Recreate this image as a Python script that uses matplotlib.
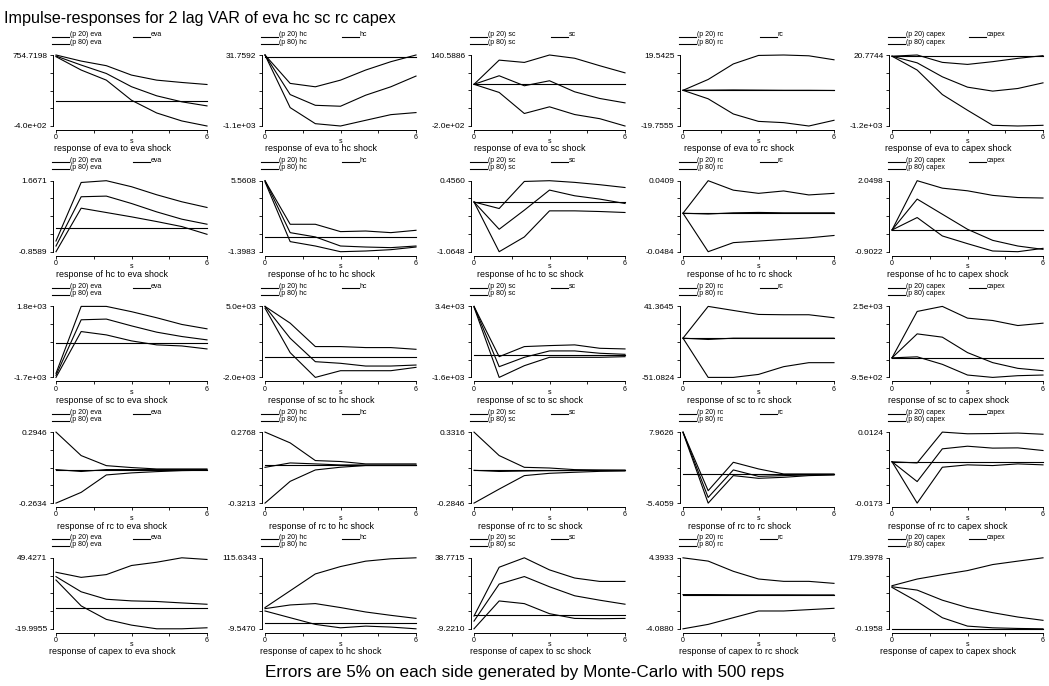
import numpy as np
import matplotlib
matplotlib.use("Agg")
import matplotlib.pyplot as plt
from matplotlib.lines import Line2D

plt.rcParams['font.family'] = ['Liberation Sans', 'DejaVu Sans']

# variables: rows are responses, columns are shocks
names = ["eva", "hc", "sc", "rc", "capex"]
steps = [0, 1, 2, 3, 4, 5, 6]

# y axis end labels (max and min of each panel)
top_labels = [
    ["754.7198", "31.7592", "140.5886", "19.5425", "20.7744"],
    ["1.6671", "5.5608", "0.4560", "0.0409", "2.0498"],
    ["1.8e+03", "5.0e+03", "3.4e+03", "41.3645", "2.5e+03"],
    ["0.2946", "0.2768", "0.3316", "7.9626", "0.0124"],
    ["49.4271", "115.6343", "38.7715", "4.3933", "179.3978"],
]
bot_labels = [
    ["-4.0e+02", "-1.1e+03", "-2.0e+02", "-19.7555", "-1.2e+03"],
    ["-0.8589", "-1.3983", "-1.0648", "-0.0484", "-0.9022"],
    ["-1.7e+03", "-2.0e+03", "-1.6e+03", "-51.0824", "-9.5e+02"],
    ["-0.2634", "-0.3213", "-0.2846", "-5.4059", "-0.0173"],
    ["-19.9955", "-9.5470", "-9.2210", "-4.0880", "-0.1958"],
]

# response of eva (one list per shock)
eva_hi = [
    [754.7, 656, 581, 428, 346, 308, 275],
    [31.76, -421, -475, -369, -208, -75, 31.76],
    [0, 116, 105, 140.59, 125, 89, 55],
    [0, 6.0, 14.6, 19.3, 19.54, 19.1, 16.9],
    [0, 20.77, -106, -141, -94, -37, 10],
]
eva_mid = [
    [738, 591, 454, 239, 91, -7, -73],
    [31.76, -599, -770, -785, -609, -475, -304],
    [0, 41, -7, 17, -36, -68, -89],
    [0, 0.1, 0.2, 0.1, 0, 0, -0.1],
    [0, -114, -354, -532, -600, -555, -458],
]
eva_lo = [
    [727, 510, 346, 19, -188, -318, -400],
    [31.76, -807, -1063, -1100, -1009, -919, -886],
    [0, -39, -140, -108, -145, -165, -200],
    [0, -4.7, -13.1, -17.2, -17.9, -19.76, -16.6],
    [0, -238, -659, -929, -1188, -1200, -1188],
]

# response of hc
hc_hi = [
    [-0.477, 1.604, 1.667, 1.453, 1.167, 0.917, 0.715],
    [5.56, 1.29, 1.29, 0.57, 0.63, 0.47, 0.70],
    [0, -0.14, 0.44, 0.456, 0.42, 0.37, 0.31],
    [0, 0.0409, 0.029, 0.025, 0.028, 0.023, 0.025],
    [0, 2.05, 1.74, 1.63, 1.44, 1.35, 1.33],
]
hc_mid = [
    [-0.657, 1.096, 1.119, 0.856, 0.558, 0.298, 0.119],
    [5.56, 0.47, 0.05, -0.84, -0.94, -1.00, -0.84],
    [0, -0.584, -0.175, 0.255, 0.133, 0.062, -0.032],
    [0, -0.001, 0.0005, 0.001, 0.0005, 0.0005, 0.0005],
    [0, 1.285, 0.657, 0.03, -0.43, -0.666, -0.805],
]
hc_lo = [
    [-0.8589, 0.689, 0.535, 0.381, 0.214, 0.035, -0.240],
    [5.45, -0.41, -0.84, -1.398, -1.33, -1.20, -0.94],
    [0, -1.065, -0.749, -0.190, -0.190, -0.204, -0.225],
    [0, -0.0484, -0.037, -0.035, -0.033, -0.031, -0.028],
    [0, 0.518, -0.247, -0.568, -0.873, -0.902, -0.763],
]

# response of sc
sc_hi = [
    [-1500, 1800, 1800, 1540, 1240, 910, 695],
    [5000, 3350, 1040, 1040, 940, 940, 770],
    [3400, -140, 570, 640, 690, 450, 405],
    [0, 41.36, 36.1, 30.9, 30.5, 30.5, 26.6],
    [0, 2255, 2500, 1930, 1815, 1570, 1685],
]
sc_mid = [
    [-1600, 1140, 1175, 840, 530, 315, 150],
    [5000, 1860, -450, -610, -880, -880, -780],
    [3400, -845, -185, 265, 265, 100, 25],
    [0, -1.7, 0, 0, 0, 0, 0],
    [0, 1165, 1005, 255, -232, -510, -625],
]
sc_lo = [
    [-1700, 560, 395, 100, -97, -150, -297],
    [4830, 440, -2000, -1340, -1340, -1340, -1010],
    [3350, -1600, -775, -185, -185, -185, -140],
    [0, -51.08, -51.08, -47.2, -37.1, -31.9, -31.9],
    [0, 50, -315, -835, -950, -867, -835],
]

# response of rc
rc_hi = [
    [0.2946, 0.110, 0.031, 0.016, 0.005, 0.005, 0.005],
    [0.2768, 0.186, 0.037, 0.029, 0.009, 0.009, 0.009],
    [0.3316, 0.128, 0.026, 0.020, 0.006, 0.003, 0.001],
    [7.96, -3.07, 2.28, 1.03, 0.08, 0.08, 0.08],
    [0, -0.0005, 0.0124, 0.0117, 0.0118, 0.0120, 0.0115],
]
rc_mid = [
    [0, -0.015, 0, 0, 0, 0, 0],
    [-0.02, 0.017, 0.009, 0, 0, 0, 0],
    [0, -0.01, -0.006, -0.003, -0.002, -0.001, 0],
    [7.96, -4.34, 0.84, -0.37, -0.23, -0.11, -0.04],
    [0, -0.0083, 0.0054, 0.0065, 0.0057, 0.0058, 0.0047],
]
rc_lo = [
    [-0.2634, -0.179, -0.042, -0.026, -0.016, -0.008, -0.005],
    [-0.3213, -0.138, -0.042, -0.019, -0.005, -0.005, -0.005],
    [-0.2846, -0.163, -0.046, -0.026, -0.017, -0.009, -0.006],
    [7.9, -5.41, -0.23, -0.74, -0.55, -0.23, -0.11],
    [0, -0.0173, -0.0023, -0.0013, -0.0016, -0.0009, -0.0013],
]

# response of capex
capex_hi = [
    [35.3, 30.3, 33.0, 41.9, 45.1, 49.43, 47.8],
    [27.9, 57.5, 87.2, 100.2, 109.7, 113.9, 115.63],
    [-0.6, 32.4, 38.77, 30.6, 25.1, 22.8, 22.8],
    [4.39, 4.0, 2.78, 1.86, 1.58, 1.58, 1.34],
    [108.8, 125.7, 136.8, 147.1, 162.3, 171.0, 179.4],
]
capex_mid = [
    [31.0, 16.2, 8.9, 7.3, 6.7, 5.3, 4.0],
    [26.0, 32.5, 34.9, 27.9, 20.1, 14.2, 8.8],
    [-4.0, 21.0, 26.1, 19.2, 13.1, 10.1, 7.4],
    [0.0, 0.0, -0.02, -0.03, -0.03, -0.04, -0.04],
    [106.2, 97.7, 72.2, 53.5, 40.6, 29.6, 21.2],
]
capex_lo = [
    [27.7, 2.4, -10.8, -16.4, -19.99, -19.99, -19.0],
    [21.9, 10.0, -1.8, -7.8, -4.8, -6.5, -9.55],
    [-9.22, 9.6, 7.8, 1.0, -2.2, -2.4, -2.2],
    [-4.09, -3.56, -2.76, -1.96, -1.96, -1.8, -1.64],
    [104.5, 68.8, 27.8, 6.6, 2.3, 0.7, -0.2],
]

hi_rows = [eva_hi, hc_hi, sc_hi, rc_hi, capex_hi]
mid_rows = [eva_mid, hc_mid, sc_mid, rc_mid, capex_mid]
lo_rows = [eva_lo, hc_lo, sc_lo, rc_lo, capex_lo]

W, H = 1049, 686
fig = plt.figure(figsize=(W / 100, H / 100), dpi=100)
fig.patch.set_facecolor("white")

# panel geometry in pixels
px_left, px_pitch_x, px_w = 56, 209, 151
px_top, px_pitch_y, px_h = 55, 125.7, 71


def fx(px):
    return px / W


def fy(py):
    return 1 - py / H


for r in range(5):
    for c in range(5):
        L = px_left + c * px_pitch_x
        T = px_top + r * px_pitch_y
        ax = fig.add_axes([fx(L), fy(T + px_h), px_w / W, px_h / H])
        lo_lim = float(bot_labels[r][c])
        hi_lim = float(top_labels[r][c])

        # zero line and the three curves
        ax.plot([0, 6], [0, 0], color="black", lw=0.8, clip_on=False)
        for rows in (hi_rows, mid_rows, lo_rows):
            ax.plot(steps, rows[r][c], color="black", lw=0.8, clip_on=False)

        ax.set_xlim(0, 6)
        ax.set_ylim(lo_lim, hi_lim)
        ax.set_facecolor("none")
        for s in ("top", "right"):
            ax.spines[s].set_visible(False)
        ax.spines["left"].set_position(("outward", 2.2))
        ax.spines["bottom"].set_position(("outward", 2.9))
        for s in ("left", "bottom"):
            ax.spines[s].set_linewidth(0.7)

        ax.set_yticks(np.linspace(lo_lim, hi_lim, 5))
        ax.set_yticklabels([bot_labels[r][c], "", "", "", top_labels[r][c]])
        ax.set_xticks([0, 1.5, 3, 4.5, 6])
        ax.set_xticklabels(["0", "", "", "", "6"])
        ax.tick_params(axis="y", labelsize=6, length=2.5, width=0.6, pad=1.5)
        ax.tick_params(axis="x", labelsize=5, length=2.5, width=0.6, pad=0.5)

        ax.annotate("s", xy=(0.5, 0), xycoords="axes fraction", xytext=(0, -11),
                    textcoords="offset points", ha="center", va="center", fontsize=5)
        ax.annotate("response of %s to %s shock" % (names[r], names[c]),
                    xy=(0.5, 0), xycoords="axes fraction", xytext=(-14, -16.5),
                    textcoords="offset points", ha="center", va="center",
                    fontsize=6.4)

        # legend above the panel
        shock = names[c]
        entries = [(L - 4, T - 20, "(p 20) " + shock),
                   (L - 4, T - 13, "(p 80) " + shock),
                   (L + 77, T - 20, shock)]
        for x0, y0, lab in entries:
            fig.add_artist(Line2D([fx(x0), fx(x0 + 17)], [fy(y0 + 1.5), fy(y0 + 1.5)],
                                  color="black", lw=0.8, transform=fig.transFigure))
            fig.text(fx(x0 + 18), fy(y0), lab, fontsize=5, va="center", ha="left")

fig.text(fx(4), fy(18), "Impulse-responses for 2 lag VAR of eva hc sc rc capex",
         fontsize=11.6, va="center", ha="left")
fig.text(0.5, fy(672), "Errors are 5% on each side generated by Monte-Carlo with 500 reps",
         fontsize=12.3, va="center", ha="center")

plt.savefig("out.png", dpi=100, facecolor="white")
